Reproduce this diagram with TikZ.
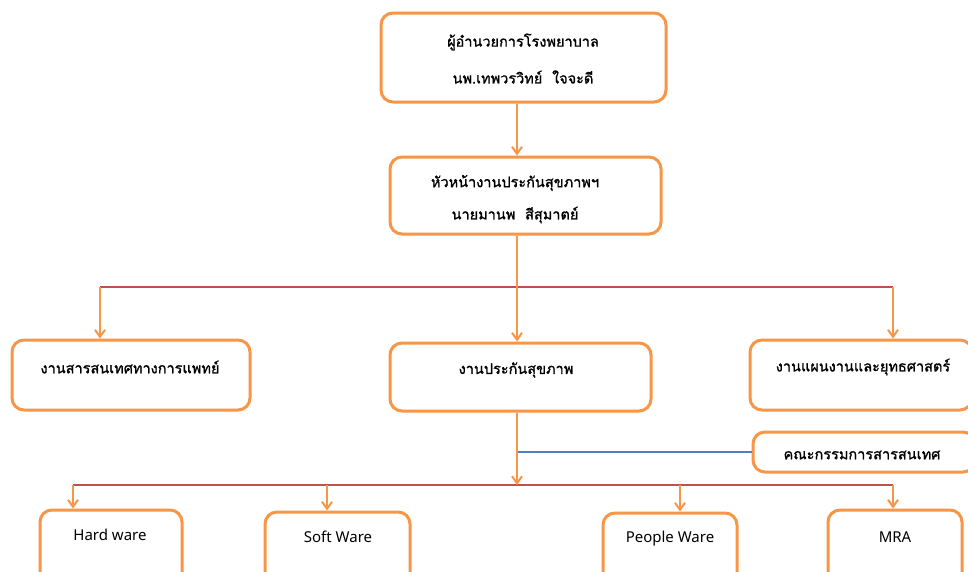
\documentclass[tikz,border=0pt]{standalone}
\usepackage{fontspec}
\usetikzlibrary{arrows.meta}
\newfontfamily\thaifont[Script=Thai,FakeBold=1.2]{Loma}
\newfontfamily\latfont{Noto Sans}
\definecolor{boxor}{HTML}{F79646}
\definecolor{lnred}{HTML}{C0504D}
\definecolor{lnblue}{HTML}{4F81BD}
\tikzset{
  box/.style={draw=boxor, line width=3pt, rounded corners=12pt, minimum width=#1},
  thtext/.style={font=\thaifont\fontsize{14.5}{16}\selectfont, inner sep=0pt},
  latext/.style={font=\latfont\fontsize{15}{17}\selectfont, inner sep=0pt},
  arr/.style={draw=boxor, line width=2pt, -{Straight Barb[length=7pt,width=10pt,line width=2pt]}},
  redline/.style={draw=lnred, line width=2.5pt},
  blueline/.style={draw=lnblue, line width=2.5pt}
}
\begin{document}
\begin{tikzpicture}[x=1pt,y=-1pt]
\useasboundingbox (0,0) rectangle (968,571);
\clip (0,0) rectangle (968,571);
\fill[white] (0,0) rectangle (968,571);
\coordinate (spine) at (517,0);
% boxes
\node[box=285pt, minimum height=89pt] (top) at (523.5,57.5) {};
\node[box=271pt, minimum height=77pt] (sec) at (525.5,195.5) {};
\node[box=238pt, minimum height=70pt] (left) at (131,375) {};
\node[box=261pt, minimum height=68pt] (mid) at (520.5,377) {};
\node[box=222pt, minimum height=70pt] (right) at (861,375) {};
\node[box=222pt, minimum height=40pt] (comm) at (864,452) {};
\node[box=142pt, minimum height=80pt] (hard) at (111,550) {};
\node[box=145pt, minimum height=80pt] (soft) at (337.5,552) {};
\node[box=134pt, minimum height=80pt] (people) at (670,553) {};
\node[box=134pt, minimum height=80pt] (mra) at (895,550) {};
% texts
\node[thtext] (t1) at (523,42) {ผู้อำนวยการโรงพยาบาล};
\node[thtext] (t2) at (523,77) {นพ.เทพวรวิทย์\ \ ใจจะดี};
\node[thtext] (t3) at (515,183) {หัวหน้างานประกันสุขภาพฯ};
\node[thtext] (t4) at (515,215) {นายมานพ\ \ สีสุมาตย์};
\node[thtext] (t5) at (130,367) {งานสารสนเทศทางการแพทย์};
\node[thtext] (t6) at (516,370) {งานประกันสุขภาพ};
\node[thtext] (t7) at (863,367) {งานแผนงานและยุทธศาสตร์};
\node[thtext] (t8) at (862,455) {คณะกรรมการสารสนเทศ};
\node[latext] (t9) at (110,535) {Hard ware};
\node[latext] (t10) at (338,537) {Soft Ware};
\node[latext] (t11) at (670,539) {People Ware};
\node[latext] (t12) at (895,537) {MRA};
% level connectors
\coordinate (r1) at (100,287);
\coordinate (r2) at (893,287);
\draw[arr] (top.south -| spine) -- (sec.north -| spine);
\draw[redline] (r1) -- (r2);
\draw[arr] (sec.south -| spine) -- (mid.north -| spine);
\draw[arr] (r1) -- (left.north -| r1);
\draw[arr] (r2) -- (right.north -| r2);
% lower connectors
\coordinate (b0) at (517,485);
\coordinate (b1) at (73,485);
\coordinate (b2) at (327,485);
\coordinate (b3) at (680,485);
\coordinate (b4) at (893,485);
\draw[blueline] (spine |- comm.west) -- (comm.west);
\draw[redline] (b1) -- (b4);
\draw[arr] (mid.south -| spine) -- (b0);
\draw[arr] (b1) -- (hard.north -| b1);
\draw[arr] (b2) -- (soft.north -| b2);
\draw[arr] (b3) -- (people.north -| b3);
\draw[arr] (b4) -- (mra.north -| b4);
\end{tikzpicture}
\end{document}
